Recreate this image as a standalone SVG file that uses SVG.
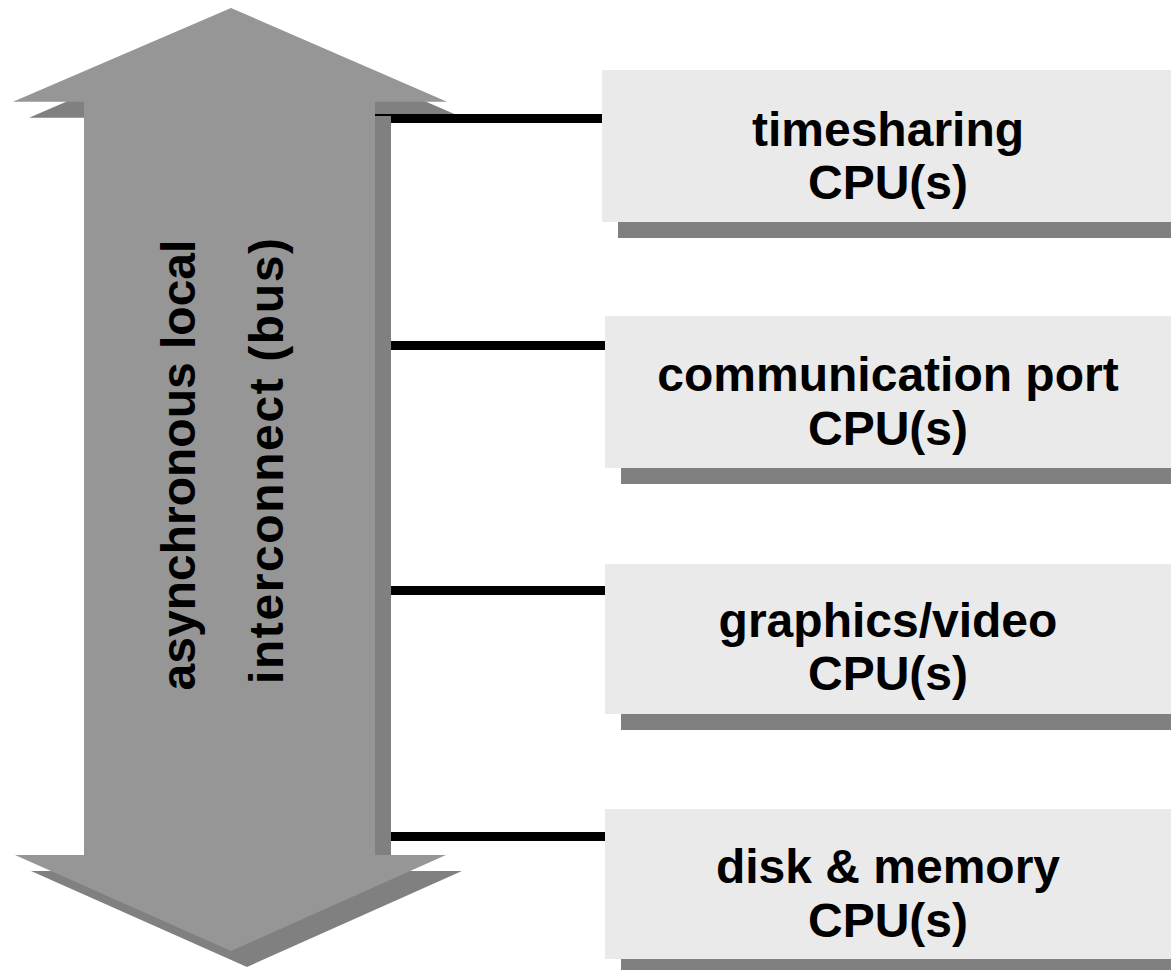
<svg xmlns="http://www.w3.org/2000/svg" width="1171" height="970" viewBox="0 0 1171 970">
<style>
.shadow{fill:#808080}
.box{fill:#eaeaea}
.arrow{fill:#969696}
.conn{fill:#000}
.lbl{font-family:"Liberation Sans",Arial,Helvetica,sans-serif;font-weight:bold;font-size:48px;fill:#000;text-anchor:middle}
</style>
<rect width="1171" height="970" fill="#fff"/>
<g id="bus">
<polygon class="shadow" points="247,24 463,117.7 391,117.7 391,871 462,871 247,967 31,871 100,871 100,117.7 29,117.7"/>
</g>
<g id="connectors">
<rect class="conn" x="375" y="114" width="228" height="9"/>
<rect class="conn" x="375" y="341" width="231" height="9"/>
<rect class="conn" x="375" y="586" width="231" height="9"/>
<rect class="conn" x="375" y="832" width="231" height="9"/>
</g>
<g id="bus-front">
<rect class="shadow" x="375" y="116" width="16" height="739"/>
<polygon class="arrow" points="231,8 447,101.7 375,101.7 375,855 446,855 231,951 15,855 84,855 84,101.7 13,101.7"/>
<text class="lbl" transform="translate(195,465) rotate(-90)" x="0" y="0">asynchronous local</text>
<text class="lbl" transform="translate(283,461) rotate(-90)" x="0" y="0" textLength="446" lengthAdjust="spacing">interconnect (bus)</text>
</g>
<g id="timesharing">
<rect class="shadow" x="618" y="86" width="600" height="152"/>
<rect class="box" x="602" y="70" width="600" height="152"/>
<text class="lbl" x="888" y="146">timesharing</text>
<text class="lbl" x="888" y="199">CPU(s)</text>
</g>
<g id="communication">
<rect class="shadow" x="621" y="332" width="600" height="152"/>
<rect class="box" x="605" y="316" width="600" height="152"/>
<text class="lbl" x="888" y="391">communication port</text>
<text class="lbl" x="888" y="445">CPU(s)</text>
</g>
<g id="graphics">
<rect class="shadow" x="621" y="580" width="600" height="150"/>
<rect class="box" x="605" y="564" width="600" height="150"/>
<text class="lbl" x="888" y="637">graphics/video</text>
<text class="lbl" x="888" y="690">CPU(s)</text>
</g>
<g id="disk">
<rect class="shadow" x="621" y="825" width="600" height="150"/>
<rect class="box" x="605" y="809" width="600" height="150"/>
<text class="lbl" x="888" y="883">disk &amp; memory</text>
<text class="lbl" x="888" y="937">CPU(s)</text>
</g>
</svg>
